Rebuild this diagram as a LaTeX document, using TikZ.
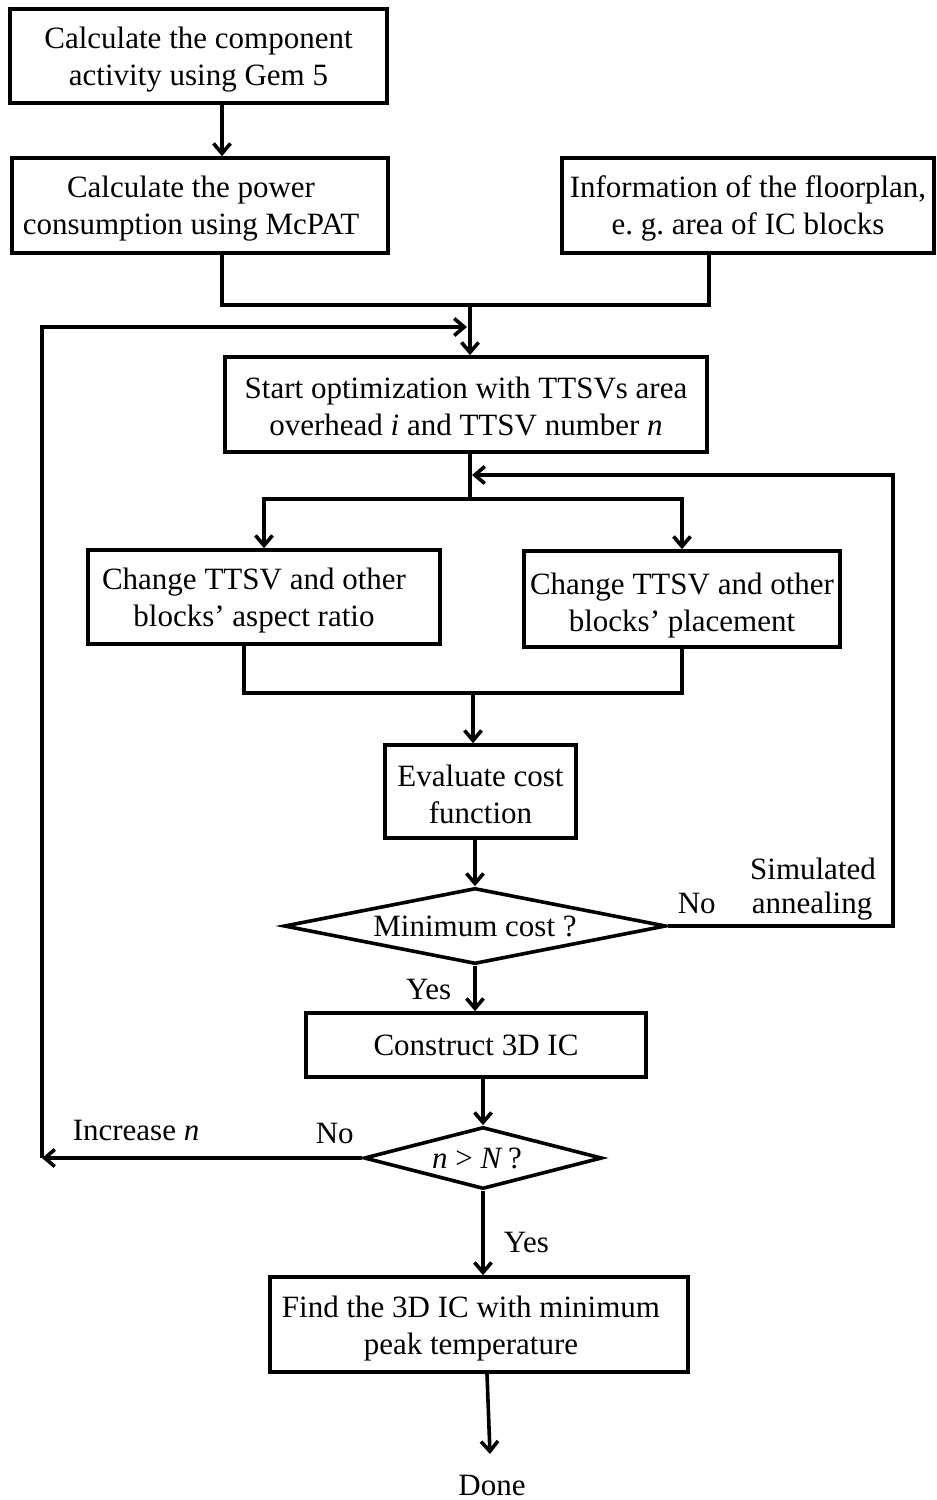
\documentclass[tikz,border=0pt]{standalone}
\usepackage{fontspec}
\setmainfont{Liberation Serif}
\usetikzlibrary{arrows.meta,shapes.geometric}
\frenchspacing
% invisible props: lift the first line's height, or pad a line on the right
\newcommand\tstrut[1][28pt]{\rule{0pt}{#1}}
\newcommand\rpad[1]{\rule{#1}{0pt}}
\begin{document}
\begin{tikzpicture}[x=1pt,y=-1pt,
  every node/.style={font=\fontsize{31pt}{37pt}\selectfont, inner sep=0pt},
  line width=3.6pt,
  >={Straight Barb[length=10pt,width=17pt]},
  proc/.style={draw, rectangle, align=center},
  decision/.style={draw, diamond, aspect=4, align=center}]
\useasboundingbox (0,0) rectangle (937,1500);

% process boxes
\node[proc, minimum width=377pt, minimum height=94pt] (b1) at (198.5,56)
  {\tstrut Calculate the component\\activity using Gem 5};
\node[proc, minimum width=376pt, minimum height=95pt] (b2) at (200,205.5)
  {\tstrut Calculate the power\rpad{18pt}\\consumption using McPAT\rpad{18pt}};
\node[proc, minimum width=372pt, minimum height=95pt] (b3) at (748,205.5)
  {\tstrut Information of the floorplan,\\e. g. area of IC blocks};
\node[proc, minimum width=482pt, minimum height=95pt] (b4) at (466,404.5)
  {\tstrut[26pt]Start optimization with TTSVs area\\overhead \textit{i} and TTSV number \textit{n}};
\node[proc, minimum width=352pt, minimum height=94pt] (b5) at (264,597)
  {\tstrut Change TTSV and other\rpad{20pt}\\blocks’ aspect ratio\rpad{20pt}};
\node[proc, minimum width=316pt, minimum height=96pt] (b6) at (682,599)
  {\tstrut[34pt]Change TTSV and other\\blocks’ placement};
\node[proc, minimum width=191pt, minimum height=93pt] (b7) at (480.5,791.5)
  {\tstrut Evaluate cost\\function};
\node[decision, minimum width=382pt, minimum height=76pt] (d1) at (475,926)
  {Minimum cost ?};
\node[proc, minimum width=340pt, minimum height=64pt] (b8) at (476,1045)
  {Construct 3D IC};
\node[decision, minimum width=238pt, minimum height=62pt] (d2) at (483,1158)
  {\textit{n}~>~\textit{N}\,?\hspace{12pt}};
\node[proc, minimum width=418pt, minimum height=95pt] (b9) at (479,1324.5)
  {\tstrut[30pt]Find the 3D IC with minimum\rpad{16pt}\\peak temperature\rpad{16pt}};
\node[anchor=base] (done) at (492,1495) {Done};

% routing points
\coordinate (ja) at (222,0);
\coordinate (jn) at (470,305);
\coordinate (xb) at (709,0);
\coordinate (lc) at (42,1158);
\coordinate (li) at (467,327);
\coordinate (sp) at (470,499);
\coordinate (rt) at (893,475);
\coordinate (ra) at (472,475);
\coordinate (xl) at (244,0);
\coordinate (jm) at (473,693);
\coordinate (dx) at (487,0);
\coordinate (dt) at (490,1454);

% connectors
\draw[->] (b1.south -| ja) -- (b2.north -| ja);
\draw (b2.south -| ja) |- (jn) -| (b3.south -| xb);
\draw[->] (jn) -- (b4.north -| jn);
\draw[->] (d2.west) -- (lc);
\draw[->] (lc) |- (li);
\draw (b4.south -| sp) -- (sp);
\draw[->] (sp) -| (b5.north);
\draw[->] (sp) -| (b6.north);
\draw[->] (d1.east) -| (rt) -- (ra);
\draw (b5.south -| xl) |- (jm) -| (b6.south);
\draw[->] (jm) -- (b7.north -| jm);
\draw[->] (b7.south -| d1.north) -- (d1.north);
\draw[->] (d1.south) -- (b8.north -| d1.south);
\draw[->] (b8.south -| d2.north) -- (d2.north);
\draw[->] (d2.south) -- (b9.north -| d2.south);
\draw[->] (b9.south -| dx) -- (dt);

% branch labels
\node[anchor=base west] (no1) at (676,913) {No};
\node[anchor=base] (sa1) at (813,879) {Simulated};
\node[anchor=base] (sa2) at (812,913) {annealing};
\node[anchor=base east] (yes1) at (453,999) {Yes};
\node[anchor=base west] (no2) at (314,1143) {No};
\node[anchor=base west] (inc) at (71,1140) {Increase \textit{n}};
\node[anchor=base west] (yes2) at (502,1252) {Yes};
\end{tikzpicture}
\end{document}
